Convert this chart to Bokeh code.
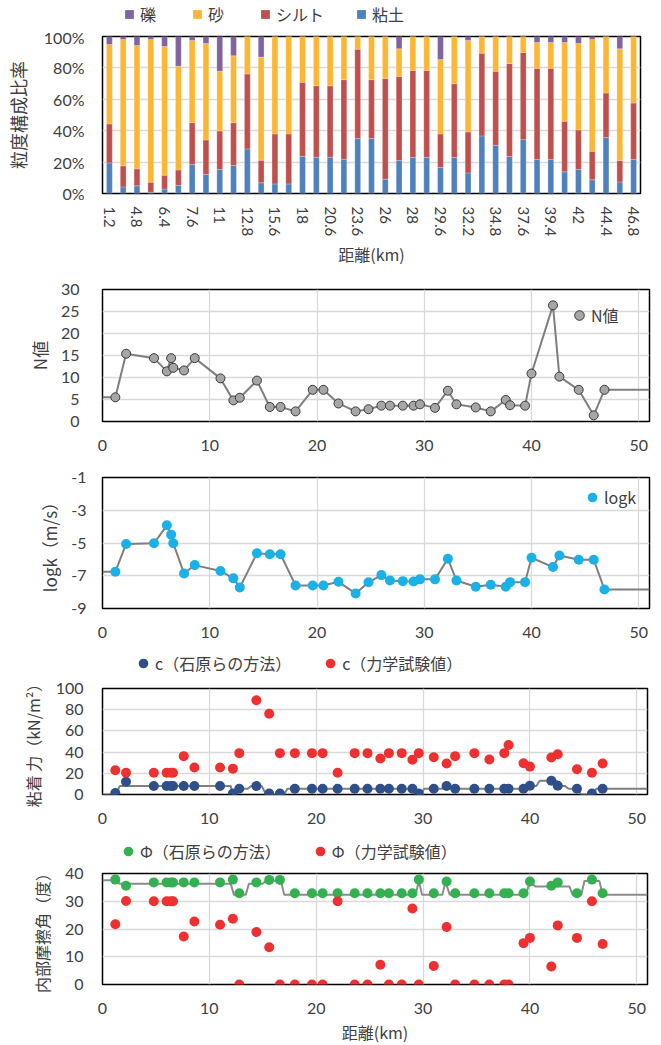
from bokeh.plotting import figure
from bokeh.layouts import column
from bokeh.models import (ColumnDataSource, Range1d, FixedTicker, Legend,
                          LegendItem, PrintfTickFormatter)
from bokeh.embed import file_html
from bokeh.resources import INLINE

# ---------------- data ----------------
dist = [1.2, 2.2, 4.8, 6.0, 6.4, 6.6, 7.6, 8.6, 11.0, 12.2, 12.8, 14.4, 15.6,
        16.6, 18.0, 19.6, 20.6, 22.0, 23.6, 24.8, 26.0, 26.8, 28.0, 29.0, 29.6,
        31.0, 32.2, 33.0, 34.8, 36.2, 37.6, 38.0, 39.4, 40.0, 42.0, 42.6, 44.4,
        45.8, 46.8]

clay = [19.5, 4.2, 4.9, 0.8, 2.8, 5.1, 18.4, 12.1, 15.3, 17.8, 28.4, 6.8, 6.1,
        6.1, 23.7, 23.1, 23.1, 21.8, 35.0, 35.0, 9.1, 21.0, 22.9, 22.9, 16.5,
        22.9, 13.1, 36.7, 30.7, 23.5, 34.3, 21.6, 21.6, 13.8, 15.3, 8.7, 35.6,
        7.4, 21.6]
silt = [24.8, 13.4, 10.8, 6.4, 8.9, 9.9, 26.7, 22.0, 24.5, 27.3, 47.7, 14.4,
        31.8, 31.8, 47.1, 45.5, 45.5, 50.7, 56.9, 37.5, 64.2, 53.6, 55.5, 55.5,
        21.4, 47.0, 26.1, 52.7, 47.1, 59.3, 55.5, 58.1, 58.1, 32.2, 25.2, 18.2,
        28.4, 13.6, 36.0]
sand = [50.6, 80.5, 78.6, 90.9, 81.9, 66.1, 52.4, 61.5, 38.0, 42.6, 23.9, 65.7,
        62.1, 62.1, 29.2, 31.4, 31.4, 27.5, 8.1, 27.5, 26.7, 17.6, 21.6, 21.6,
        47.5, 30.1, 58.3, 10.6, 22.2, 17.2, 10.2, 16.5, 16.5, 50.2, 55.1, 71.2,
        36.0, 71.2, 42.4]
gravel = [5.1, 1.9, 5.7, 1.9, 6.4, 18.9, 2.5, 4.4, 22.2, 12.3, 0.0, 13.1, 0.0,
          0.0, 0.0, 0.0, 0.0, 0.0, 0.0, 0.0, 0.0, 7.8, 0.0, 0.0, 14.6, 0.0, 2.5,
          0.0, 0.0, 0.0, 0.0, 3.8, 3.8, 3.8, 4.4, 1.9, 0.0, 7.8, 0.0]

n_value = [5.5, 15.4, 14.4, 11.4, 14.4, 12.2, 11.6, 14.4, 9.8, 4.8, 5.4, 9.3,
           3.3, 3.3, 2.3, 7.2, 7.2, 4.1, 2.3, 2.8, 3.6, 3.6, 3.6, 3.6, 3.9, 3.1,
           7.0, 3.9, 3.2, 2.3, 4.9, 3.7, 3.6, 10.9, 26.4, 10.2, 7.2, 1.4, 7.2]

logk = [-6.76, -5.06, -5.02, -3.92, -4.49, -5.02, -6.86, -6.35, -6.71, -7.16,
        -7.71, -5.63, -5.69, -5.69, -7.59, -7.59, -7.59, -7.37, -8.08, -7.40,
        -6.96, -7.29, -7.33, -7.35, -7.22, -7.22, -5.96, -7.29, -7.67, -7.55,
        -7.67, -7.39, -7.39, -5.90, -6.47, -5.76, -6.02, -6.02, -7.84]

c_ishihara = [1.3, 12.0, 8.0, 8.0, 8.0, 8.0, 8.0, 8.0, 8.0, 1.0, 5.4, 8.0, 1.0,
              1.0, 5.4, 5.4, 5.4, 5.4, 5.4, 5.4, 5.4, 5.4, 5.4, 5.4, 1.0, 5.4,
              8.0, 5.4, 5.4, 5.4, 5.4, 5.4, 5.4, 8.3, 13.0, 8.3, 5.4, 1.0, 5.4]
c_test = [22.9, 20.6, 20.6, 20.6, 20.6, 20.6, 36.2, 25.4, 25.4, 24.4, 39.0, 88.9,
          76.2, 39.0, 39.0, 39.0, 39.0, 20.6, 39.0, 39.0, 34.0, 39.0, 39.0, 32.7,
          39.0, 35.2, 29.2, 36.2, 39.0, 33.0, 39.0, 46.7, 29.5, 26.3, 34.9, 38.0,
          23.8, 20.6, 29.2]

phi_ishihara = [37.8, 35.6, 36.8, 36.8, 36.8, 36.8, 36.8, 36.8, 36.8, 37.8, 32.9,
                36.8, 37.7, 37.7, 32.9, 32.9, 32.9, 32.9, 32.9, 32.9, 32.9, 32.9,
                32.9, 32.9, 37.8, 32.9, 37.1, 32.9, 32.9, 32.9, 32.9, 32.9, 32.9,
                37.1, 35.6, 36.8, 32.9, 37.8, 32.9]
phi_test = [21.7, 30.1, 30.0, 30.0, 30.0, 30.0, 17.3, 22.7, 21.5, 23.7, 0.0, 18.9,
            13.4, 0.0, 0.0, 0.0, 0.0, 30.0, 0.0, 0.0, 7.1, 0.0, 0.0, 27.4, 0.0,
            6.7, 20.7, 0.0, 0.0, 0.0, 0.0, 0.0, 14.9, 16.8, 6.5, 21.3, 16.8, 30.0,
            14.6]

# continuous profiles (grey lines)
c_prof_x = [0, 1.3, 1.6, 12.0, 12.2, 12.4, 12.7, 13.6, 13.9, 14.9, 15.3, 17.0,
            17.3, 29.2, 29.5, 29.8, 30.1, 31.8, 32.0, 32.4, 32.7, 39.6, 39.9,
            40.6, 40.9, 42.5, 42.8, 43.3, 43.6, 44.4, 44.8, 45.9, 46.2, 51]
c_prof_y = [0, 0, 8, 8, 0, 0, 5.4, 5.4, 8, 8, 0, 0, 5.4, 5.4, 0, 0, 5.4, 5.4, 8,
            8, 5.4, 5.4, 8, 8, 13, 13, 8, 8, 5.4, 5.4, 0, 0, 5.4, 5.4]
phi_prof_x = [0, 1.3, 1.6, 12.0, 12.3, 13.4, 13.7, 15.0, 15.3, 16.7, 17.0, 29.3,
              29.6, 29.9, 31.8, 32.1, 32.5, 39.6, 40.0, 40.5, 43.7, 44.0, 44.8,
              45.1, 46.5, 46.8, 51]
phi_prof_y = [37.6, 37.6, 36.3, 36.3, 32.3, 32.3, 36.3, 36.3, 37.4, 37.4, 32.3,
              32.3, 37.4, 32.3, 32.3, 37.0, 32.3, 32.3, 37.0, 35.3, 35.3, 32.3,
              32.3, 37.3, 37.3, 32.3, 32.3]

x_end = 51
x_ticks = [0, 10, 20, 30, 40, 50]

# ---------------- styling helpers ----------------
FONT = "Noto Sans CJK JP"
NUMFONT = "Lato"
TXT = "#404040"
GRID = "#D9D9D9"
C_GRAVEL = "#8064A2"
C_SAND = "#FDB631"
C_SILT = "#C0504D"
C_CLAY = "#4F81BD"
C_GREY_PT = "#A6A6A6"
C_BLUE_PT = "#1AB0E8"
C_NAVY = "#2E4F8A"
C_RED = "#EE3030"
C_GREEN = "#33B04F"
PAGE_W = 652


def make_fig(fw, fh, left, right, top, bottom, xr, yr):
    return figure(frame_width=fw, frame_height=fh, min_border_left=left,
                  min_border_right=right, min_border_top=top,
                  min_border_bottom=bottom, toolbar_location=None,
                  output_backend="svg", x_range=xr, y_range=yr)


def legend_fig(h):
    f = figure(frame_width=PAGE_W, frame_height=h, min_border=0,
               toolbar_location=None, output_backend="svg",
               x_axis_type=None, y_axis_type=None,
               x_range=Range1d(-2, -1), y_range=Range1d(-2, -1))
    f.outline_line_color = None
    f.background_fill_color = "white"
    f.border_fill_color = "white"
    return f


def style(p, xstand, ystand, ylab_stand, ylab_size="17px"):
    p.outline_line_color = "black"
    p.outline_line_width = 1.5
    p.background_fill_color = "white"
    p.border_fill_color = "white"
    for ax in p.axis:
        ax.axis_line_color = None
        ax.major_tick_line_color = None
        ax.minor_tick_line_color = None
        ax.major_tick_out = 0
        ax.major_tick_in = 0
        ax.major_label_text_font = NUMFONT
        ax.major_label_text_font_size = "16px"
        ax.major_label_text_color = TXT
        ax.axis_label_text_font = FONT
        ax.axis_label_text_font_style = "normal"
        ax.axis_label_text_color = TXT
        ax.axis_label_text_font_size = "16px"
    for ax in p.xaxis:
        ax.major_label_standoff = xstand
    for ax in p.yaxis:
        ax.major_label_standoff = ystand
        ax.axis_label_standoff = ylab_stand
        ax.axis_label_text_font_size = ylab_size
    p.grid.grid_line_color = GRID
    p.grid.grid_line_width = 1.3


def legend_style(leg, gsize):
    leg.label_text_font = FONT
    leg.label_text_font_size = "16px"
    leg.label_text_color = TXT
    leg.background_fill_alpha = 0
    leg.border_line_color = None
    leg.inactive_fill_alpha = 0
    leg.padding = 0
    leg.margin = 0
    leg.glyph_width = gsize
    leg.glyph_height = gsize
    leg.label_height = gsize
    leg.label_standoff = 0


idx = list(range(len(dist)))
src = ColumnDataSource(dict(idx=idx, clay=clay, silt=silt, sand=sand,
                            gravel=gravel))

# ---------------- legend strip for chart 1 ----------------
L1 = legend_fig(27)
keys1 = {}
for name, col in [("gravel", C_GRAVEL), ("sand", C_SAND), ("silt", C_SILT),
                  ("clay", C_CLAY)]:
    keys1[name] = L1.scatter(x="idx", y=name, source=src, marker="square",
                             fill_color=col, line_color=None, visible=False)
leg1 = Legend(items=[LegendItem(label="礫", renderers=[keys1["gravel"]]),
                     LegendItem(label="砂", renderers=[keys1["sand"]]),
                     LegendItem(label="シルト", renderers=[keys1["silt"]]),
                     LegendItem(label="粘土", renderers=[keys1["clay"]])],
              location=(118, 1), orientation="horizontal")
legend_style(leg1, 22)
leg1.spacing = 26
L1.add_layout(leg1)

# ---------------- 1: grain size composition ----------------
p1 = make_fig(538, 157, 102, 12, 9, 77, Range1d(-0.5, len(dist) - 0.5),
              Range1d(0, 100))
p1.vbar_stack(["clay", "silt", "sand", "gravel"], x="idx", width=0.42,
              color=[C_CLAY, C_SILT, C_SAND, C_GRAVEL], source=src,
              line_color="white", line_width=0.4, line_alpha=0.6)
style(p1, 13, 18, 10, "18px")
p1.xgrid.visible = False
p1.yaxis.ticker = FixedTicker(ticks=[0, 20, 40, 60, 80, 100])
p1.yaxis.formatter = PrintfTickFormatter(format="%d%%")
even = idx[::2]
p1.xaxis.ticker = FixedTicker(ticks=even)
p1.xaxis.major_label_overrides = {i: f"{dist[i]:g}" for i in even}
p1.xaxis.major_label_orientation = "vertical"
p1.xaxis.major_label_text_font_size = "15px"
p1.xaxis.axis_label = "距離(km)"
p1.xaxis.axis_label_standoff = 3
p1.yaxis.axis_label = "粒度構成比率"

# ---------------- 2: N value ----------------
line_x = [0] + dist + [x_end]
p2 = make_fig(547, 132, 101, 4, 19, 34, Range1d(0, x_end), Range1d(0, 30))
p2.line(line_x, [n_value[0]] + n_value + [n_value[-1]], line_color="#7F7F7F",
        line_width=2)
rn = p2.scatter(dist, n_value, size=9, fill_color=C_GREY_PT,
                line_color="#3A3A3A", line_width=1)
style(p2, 18, 23, 6)
p2.xaxis.ticker = FixedTicker(ticks=x_ticks)
p2.yaxis.ticker = FixedTicker(ticks=[0, 5, 10, 15, 20, 25, 30])
p2.yaxis.axis_label = "N値"
leg2 = Legend(items=[LegendItem(label="N値", renderers=[rn])],
              location=(465, 94))
legend_style(leg2, 24)
p2.add_layout(leg2)

# ---------------- 3: log k ----------------
p3 = make_fig(547, 131, 101, 4, 22, 32, Range1d(0, x_end), Range1d(-9, -1))
p3.line(line_x, [logk[0]] + logk + [logk[-1]], line_color="#7F7F7F",
        line_width=2)
rk = p3.scatter(dist, logk, size=10, fill_color=C_BLUE_PT, line_color=None)
style(p3, 18, 16, 6)
p3.xaxis.ticker = FixedTicker(ticks=x_ticks)
yt3 = [-9, -7, -5, -3, -1]
p3.yaxis.ticker = FixedTicker(ticks=yt3)
p3.yaxis.major_label_overrides = {v: str(v) for v in yt3}
p3.yaxis.axis_label = "logk（m/s）"
leg3 = Legend(items=[LegendItem(label="logk", renderers=[rk])],
              location=(478, 99))
legend_style(leg3, 24)
p3.add_layout(leg3)

# ---------------- legend strip for chart 4 ----------------
L4 = legend_fig(35)
k41 = L4.scatter(dist, c_ishihara, size=10, fill_color=C_NAVY,
                 line_color=None, visible=False)
k42 = L4.scatter(dist, c_test, size=10, fill_color=C_RED, line_color=None,
                 visible=False)
leg4 = Legend(items=[LegendItem(label="c（石原らの方法）", renderers=[k41]),
                     LegendItem(label="c（力学試験値）", renderers=[k42])],
              location=(131, 0), orientation="horizontal")
legend_style(leg4, 24)
leg4.spacing = 27
L4.add_layout(leg4)

# ---------------- 4: cohesion ----------------
p4 = make_fig(545, 106, 101, 6, 13, 44, Range1d(0, x_end), Range1d(0, 100))
p4.line(c_prof_x, c_prof_y, line_color="#808080", line_width=2)
p4.scatter(dist, c_ishihara, size=10, fill_color=C_NAVY, line_color=None)
p4.scatter(dist, c_test, size=10, fill_color=C_RED, line_color=None)
style(p4, 18, 19, 8, "16px")
p4.xaxis.ticker = FixedTicker(ticks=x_ticks)
p4.yaxis.ticker = FixedTicker(ticks=[0, 20, 40, 60, 80, 100])
p4.yaxis.axis_label = "粘着 力（kN/m²）"

# ---------------- legend strip for chart 5 ----------------
L5 = legend_fig(25)
k51 = L5.scatter(dist, phi_ishihara, size=10, fill_color=C_GREEN,
                 line_color=None, visible=False)
k52 = L5.scatter(dist, phi_test, size=10, fill_color=C_RED, line_color=None,
                 visible=False)
leg5 = Legend(items=[LegendItem(label="Φ（石原らの方法）", renderers=[k51]),
                     LegendItem(label="Φ（力学試験値）", renderers=[k52])],
              location=(116, 0), orientation="horizontal")
legend_style(leg5, 24)
leg5.spacing = 27
L5.add_layout(leg5)

# ---------------- 5: internal friction angle ----------------
p5 = make_fig(545, 111, 101, 6, 10, 51, Range1d(0, x_end), Range1d(0, 40))
p5.line(phi_prof_x, phi_prof_y, line_color="#8C8C8C", line_width=2)
p5.scatter(dist, phi_ishihara, size=10, fill_color=C_GREEN, line_color=None)
p5.scatter(dist, phi_test, size=10, fill_color=C_RED, line_color=None)
style(p5, 18, 19, 8, "16px")
p5.xaxis.ticker = FixedTicker(ticks=x_ticks)
p5.yaxis.ticker = FixedTicker(ticks=[0, 10, 20, 30, 40])
p5.yaxis.axis_label = "内部摩擦角（度）"
p5.xaxis.axis_label = "距離(km)"
p5.xaxis.axis_label_standoff = 3

layout = column(L1, p1, p2, p3, L4, p4, L5, p5, spacing=0)
open("out.html", "w").write(file_html(layout, INLINE))
